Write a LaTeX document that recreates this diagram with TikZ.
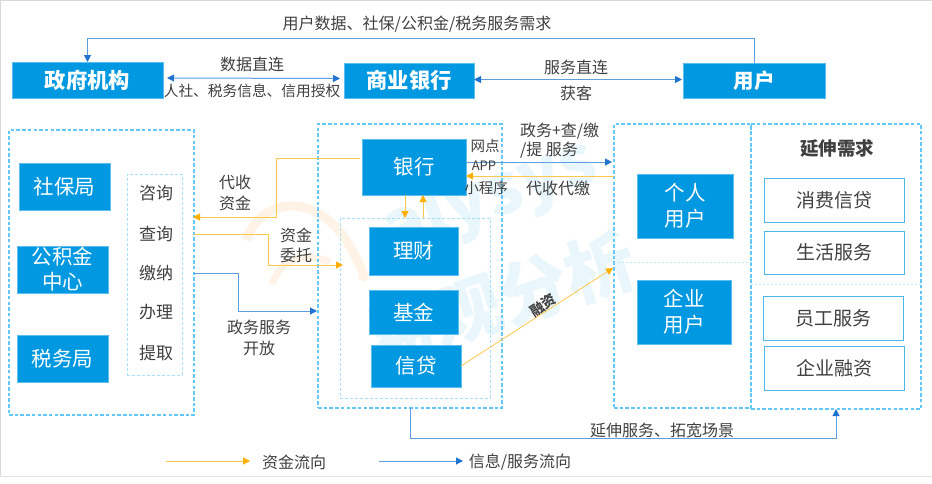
\documentclass[tikz,border=0pt]{standalone}
\usepackage{fontspec}
\setmainfont{Noto Sans CJK SC}
\usetikzlibrary{arrows.meta,calc}
\definecolor{boxblue}{HTML}{0098E0}
\definecolor{boxedge}{HTML}{5CBDF0}
\definecolor{frame}{HTML}{62C8F8}
\definecolor{inframe}{HTML}{A8E0FA}
\definecolor{ink}{HTML}{404040}
\definecolor{orangeln}{HTML}{FFC84A}
\definecolor{orangetip}{HTML}{FFB000}
\definecolor{blueln}{HTML}{5B9FE0}
\definecolor{bluetip}{HTML}{1F74D0}
\definecolor{wmblue}{HTML}{E9F6FC}
\definecolor{wmorange}{HTML}{FEF3E6}
\newcommand{\bx}[7][]{%
  \pgfmathsetmacro{\cxx}{(#3+#5)/2}\pgfmathsetmacro{\cyy}{(#4+#6)/2}%
  \pgfmathsetmacro{\www}{#5-#3}\pgfmathsetmacro{\hhh}{#6-#4}%
  \node[#1,minimum width=\www pt,minimum height=\hhh pt] (#2) at (\cxx,\cyy) {#7};}
\tikzset{
  x=1pt,y=-1pt,
  every node/.style={inner sep=0pt,outer sep=0pt,text=ink,font=\fontsize{16}{20}\selectfont,align=center},
  bluebox/.style={fill=boxblue,draw=boxedge,line width=0.6pt,text=white,font=\fontsize{20.5}{26}\selectfont},
  headbox/.style={bluebox,font=\fontsize{21.3}{26}\selectfont\bfseries},
  whitebox/.style={fill=white,draw=boxblue!70!white,line width=1pt,font=\fontsize{19}{23}\selectfont},
  itemtext/.style={font=\fontsize{17}{21}\selectfont},
  outerframe/.style={draw=frame,line width=1.2pt,dash pattern=on 3.5pt off 2.2pt},
  innerframe/.style={draw=inframe,line width=0.8pt,dash pattern=on 3pt off 2pt},
  divider/.style={draw=inframe!70!white,line width=0.7pt,dash pattern=on 2pt off 2pt},
  orangeflow/.style={draw=orangeln,line width=1pt,-{Triangle[length=7pt,width=7pt,color=orangetip]}},
  blueflow/.style={draw=blueln,line width=1pt,-{Triangle[length=7pt,width=7pt,color=bluetip]}},
  bothblue/.style={draw=blueln,line width=1pt,{Triangle[length=7pt,width=7pt,color=bluetip]}-{Triangle[length=7pt,width=7pt,color=bluetip]}},
  wmtext/.style={text=wmblue,font=\fontsize{70}{70}\selectfont\bfseries},
}
\begin{document}
\begin{tikzpicture}
\useasboundingbox (0,0) rectangle (932,483);
\fill[white] (0,0) rectangle (932,483);
\fill[gray!30] (0,0) rectangle (932,1.2);
\fill[gray!30] (0,0) rectangle (1.2,477);
\fill[gray!20] (0,476) rectangle (932,477.2);
% watermark
\draw[wmorange,line width=9pt] (246,240) .. controls (262,196) and (320,190) .. (352,250) .. controls (362,270) and (366,276) .. (362,280);
\draw[wmorange,line width=7pt] (272,284) .. controls (280,262) and (300,250) .. (330,262);
\node[wmtext,rotate=20] (wmA) at (490,198) {alysys};
\node[wmtext,rotate=18] (wmB) at (500,300) {易观分析};
% top row
\bx[headbox]{gov}{12}{62}{163}{98}{政府机构}
\bx[headbox]{cbank}{344}{63}{474}{98}{商业银行}
\bx[bluebox]{user}{683}{63}{825}{98}{\bfseries 用户}
\draw[blueflow] (user.north) -- ++(0,-25) -| (gov.north);
\coordinate (gr) at ($(gov.east)+(4,-2)$);
\coordinate (cl) at ($(cbank.west)+(-4,-2)$);
\draw[bothblue] (gr) -- (cl);
\coordinate (cr) at ($(cbank.east)+(0,-1)$);
\coordinate (ul) at ($(user.west)+(-1,-1)$);
\draw[bothblue] (cr) -- (ul);
\node (t1) at (417,24) {用户数据、社保/公积金/税务服务需求};
\node (t2) at (252,64) {数据直连};
\node[font=\fontsize{14.7}{18}\selectfont] (t3) at (252,91) {人社、税务信息、信用授权};
\node (t4) at (576,67) {服务直连};
\node (t5) at (576,93) {获客};
% left group
\bx[outerframe]{leftf}{9}{130}{194}{415}{}
\bx[innerframe]{items}{127}{174}{182}{375}{}
\bx[bluebox]{sb}{19}{163}{110}{210}{社保局}
\bx[bluebox]{gjj}{17}{246}{108}{293}{公积金\\[-1pt]中心}
\bx[bluebox]{sw}{17}{335}{108}{382}{税务局}
\node[itemtext] (i1) at (156,193) {咨询};
\node[itemtext] (i2) at (156,234) {查询};
\node[itemtext] (i3) at (156,273) {缴纳};
\node[itemtext] (i4) at (156,312) {办理};
\node[itemtext] (i5) at (156,353) {提取};
% middle group
\bx[outerframe]{midf}{318}{124}{502}{408}{}
\bx[innerframe]{midin}{340}{218}{490}{398}{}
\bx[bluebox]{bank}{362}{139}{466}{195}{银行}
\bx[bluebox]{lc}{369}{227}{458}{275}{理财}
\bx[bluebox]{jj}{369}{290}{458}{334}{基金}
\bx[bluebox]{xd}{371}{345}{461}{387}{信贷}
% right groups
\bx[outerframe]{userf}{614}{124}{751}{408}{}
\bx[outerframe]{extf}{751}{124}{921}{409}{}
\coordinate (d1a) at (614,262); \coordinate (d1b) at (751,262);
\coordinate (d2a) at (751,284); \coordinate (d2b) at (921,284);
\draw[divider] (d1a) -- (d1b);
\draw[divider] (d2a) -- (d2b);
\bx[bluebox]{pu}{637}{174}{733}{238}{个人\\用户}
\bx[bluebox]{eu}{637}{280}{731}{344}{企业\\用户}
\node[font=\fontsize{18.5}{22}\selectfont\bfseries] (ext) at (837,148) {延伸需求};
\bx[whitebox]{w1}{764}{178}{904}{222}{消费信贷}
\bx[whitebox]{w2}{764}{231}{904}{274}{生活服务}
\bx[whitebox]{w3}{763}{296}{903}{340}{员工服务}
\bx[whitebox]{w4}{764}{346}{904}{390}{企业融资}
% connectors
\coordinate (b1) at (360,158);
\coordinate (l1) at (193,217);
\draw[orangeflow] (b1) -- (276,158) -- (276,217) -- (l1);
\coordinate (l2) at (194,234);
\coordinate (m2) at (343,265);
\draw[orangeflow] (l2) -- (268,234) -- (268,265) -- (m2);
\coordinate (l3) at (194,273);
\coordinate (m3) at (317,311);
\draw[blueflow] (l3) -- (238,273) -- (238,311) -- (m3);
\coordinate (bd1) at (405,195); \coordinate (bd2) at (405,218);
\coordinate (bu1) at (423,218); \coordinate (bu2) at (423,195);
\draw[orangeflow] (bd1) -- (bd2);
\draw[orangeflow] (bu1) -- (bu2);
\coordinate (s1) at (466,162); \coordinate (s2) at (612,162);
\draw[blueflow] (s1) -- (s2);
\coordinate (s3) at (614,176); \coordinate (s4) at (466,176);
\draw[orangeflow] (s3) -- (s4);
\coordinate (xdr) at (461,366); \coordinate (uin) at (613,268);
\draw[orangeflow,line width=0.8pt] (xdr) -- (uin);
\coordinate (mb) at (410,408); \coordinate (eb) at (836,409);
\draw[blueflow] (mb) -- (410,438) -- (836,438) -- (eb);
% labels
\node (a1) at (235,193) {代收\\[1pt]资金};
\node (a2) at (296,245) {资金\\委托};
\node (a3) at (259,338) {政务服务\\[1pt]开放};
\node[font=\fontsize{14.5}{18}\selectfont] (n1) at (485,146) {网点};
\node[font=\fontsize{13}{18}\selectfont] (n2) at (484,166) {APP};
\node[font=\fontsize{14.5}{18}\selectfont] (n3) at (486,188) {小程序};
\node[anchor=west] (r1) at (520,131) {政务+查/缴};
\node[anchor=west] (r2) at (520,150) {/提 服务};
\node (r3) at (558,188) {代收代缴};
\node[rotate=33,font=\fontsize{14}{18}\selectfont\bfseries] (rz) at (543,305) {融资};
\node (yb) at (662,430) {延伸服务、拓宽场景};
% legend
\coordinate (la) at (166,461); \coordinate (lb) at (250,461);
\coordinate (lc1) at (379,461); \coordinate (ld) at (463,461);
\draw[orangeflow] (la) -- (lb);
\draw[blueflow] (lc1) -- (ld);
\node (lt1) at (294,462) {资金流向};
\node (lt2) at (520,462) {信息/服务流向};
\end{tikzpicture}
\end{document}
